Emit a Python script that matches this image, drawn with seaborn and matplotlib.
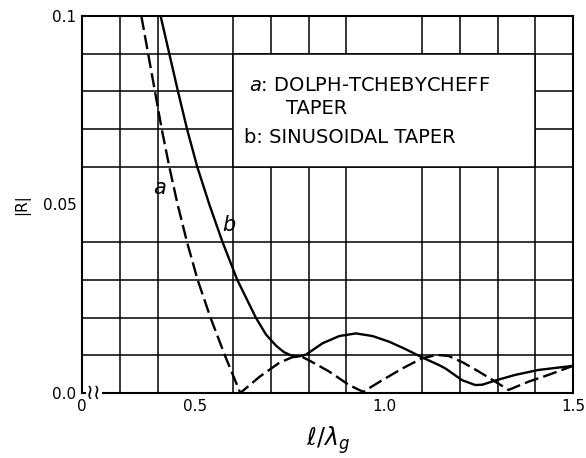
import matplotlib
matplotlib.use("Agg")
import matplotlib.pyplot as plt
import seaborn as sns
import pandas as pd
import numpy as np
from matplotlib.patches import Rectangle

# --- data ---
# curve a: Dolph-Tchebycheff taper (dashed)
x_a = [0.357, 0.375, 0.393, 0.411, 0.431, 0.453, 0.478, 0.506, 0.540, 0.578,
       0.619, 0.670, 0.722, 0.757, 0.780, 0.802, 0.854, 0.907, 0.944, 0.995,
       1.048, 1.100, 1.140, 1.171, 1.210, 1.250, 1.294, 1.329, 1.382, 1.435, 1.500]
r_a = [0.100, 0.090, 0.080, 0.070, 0.060, 0.050, 0.040, 0.030, 0.020, 0.010,
       0.000, 0.0043, 0.0080, 0.0095, 0.0097, 0.0086, 0.0057, 0.0021, 0.0003, 0.0034,
       0.0065, 0.0092, 0.0101, 0.0098, 0.0080, 0.0057, 0.0030, 0.0008, 0.0030, 0.0048, 0.0072]

# curve b: sinusoidal taper (solid)
x_b = [0.408, 0.431, 0.454, 0.478, 0.505, 0.537, 0.572, 0.611, 0.660, 0.687,
       0.714, 0.735, 0.755, 0.775, 0.793, 0.837, 0.881, 0.925, 0.969, 1.013,
       1.057, 1.101, 1.145, 1.162, 1.206, 1.241, 1.260, 1.294, 1.347, 1.408, 1.500]
r_b = [0.100, 0.090, 0.080, 0.070, 0.060, 0.050, 0.040, 0.030, 0.020, 0.0155,
       0.0125, 0.0108, 0.0099, 0.0097, 0.0102, 0.0132, 0.0151, 0.0158, 0.0151, 0.0136,
       0.0116, 0.0094, 0.0074, 0.0065, 0.0034, 0.0021, 0.0022, 0.0033, 0.0048, 0.0061, 0.0072]

x_ticks = [0.2, 0.5, 1.0, 1.5]
x_tick_labels = ["0", "0.5", "1.0", "1.5"]
y_ticks = [0.0, 0.05, 0.1]
y_tick_labels = ["0.0", "0.05", "0.1"]

df_a = pd.DataFrame({"x": x_a, "r": r_a})
df_b = pd.DataFrame({"x": x_b, "r": r_b})

sns.set_style("white")
plt.rcParams["font.family"] = ["DejaVu Sans"]
plt.rc("text", color="black")
plt.rc("axes", labelcolor="black", edgecolor="black")
plt.rc("xtick", color="black")
plt.rc("ytick", color="black")

fig = plt.figure(figsize=(5.86, 4.58), dpi=100)
ax = fig.add_axes([0.14, 0.142, 0.838, 0.823])

# grid every 0.1 in x and 0.01 in y
ax.set_xticks(np.arange(0.2, 1.501, 0.1), minor=True)
ax.set_yticks(np.arange(0.0, 0.1001, 0.01), minor=True)
ax.grid(True, which="minor", color="black", linewidth=1.1, zorder=1)
ax.set_axisbelow(True)

sns.lineplot(data=df_a, x="x", y="r", sort=False, ax=ax, color="black",
             linewidth=1.7, linestyle=(0, (6, 2.2)), zorder=3)
sns.lineplot(data=df_b, x="x", y="r", sort=False, ax=ax, color="black",
             linewidth=1.7, zorder=3)

ax.set_xlim(0.2, 1.5)
ax.set_ylim(0.0, 0.1)
ax.set_xticks(x_ticks)
ax.set_xticklabels(x_tick_labels, fontsize=11)
ax.set_yticks(y_ticks)
ax.set_yticklabels(y_tick_labels, fontsize=11)
ax.tick_params(which="both", length=0, pad=4)
for s in ax.spines.values():
    s.set_color("black")
    s.set_linewidth(1.5)

ax.set_xlabel(r"$\ell/\lambda_g$", fontsize=17, labelpad=8)
ax.set_ylabel("|R|", fontsize=11, labelpad=9)

# legend box covering part of the grid
ax.add_patch(Rectangle((0.6, 0.06), 0.8, 0.03, facecolor="white",
                       edgecolor="black", linewidth=1.1, zorder=2))
ax.text(0.643, 0.0817, r"$a$: DOLPH-TCHEBYCHEFF", fontsize=14,
        va="center", ha="left", zorder=4)
ax.text(0.741, 0.0756, "TAPER", fontsize=14, va="center", ha="left", zorder=4)
ax.text(0.630, 0.0679, "b: SINUSOIDAL TAPER", fontsize=14,
        va="center", ha="left", zorder=4)

# curve labels
ax.text(0.404, 0.0545, "a", fontsize=15, style="italic", va="center", ha="center")
ax.text(0.590, 0.0446, "b", fontsize=15, style="italic", va="center", ha="center")

# axis break mark
ax.text(0.232, 0.0, "≀≀", fontsize=15, va="center", ha="center", zorder=5,
        bbox=dict(facecolor="white", edgecolor="none", pad=0.3), clip_on=False)

fig.savefig("out.png", dpi=100)
